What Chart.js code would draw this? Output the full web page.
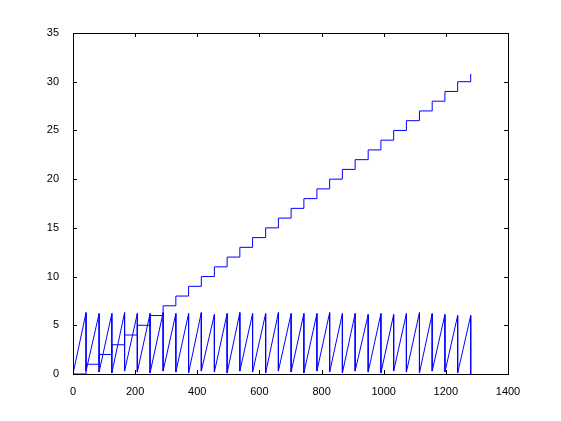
<!DOCTYPE html>
<html>
<head>
<meta charset="utf-8">
<script src="https://cdn.jsdelivr.net/npm/chart.js@4"></script>
<style>
  html, body { margin: 0; padding: 0; background: #fff; }
  #wrap { width: 561px; height: 421px; }
</style>
</head>
<body>
<div id="wrap"><canvas id="chart" width="561" height="421"></canvas></div>
<script>
// x positions where the phase wraps (and the counter steps up)
const wrapX = [42, 84, 125, 166, 207, 248, 290, 331, 372, 413, 455, 496, 537, 578, 620,
  661, 702, 743, 785, 826, 867, 908, 950, 991, 1032, 1073, 1115, 1156, 1197, 1238];
// wrapped phase just before / just after each wrap
const peakVals = [6.3, 6.2, 6.2, 6.3, 6.2, 6.2, 6.3, 6.2, 6.2, 6.3, 6.1, 6.2, 6.3, 6.2, 6.2,
  6.3, 6.2, 6.2, 6.2, 6.3, 6.2, 6.2, 6.1, 6.2, 6.1, 6.2, 6.3, 6.2, 6.1, 6.0];
const troughVals = [0.3, 0.2, 0.1, 0.3, 0.2, 0.1, 0.3, 0.2, 0.1, 0.3, 0.2, 0.1, 0.3, 0.2, 0.1,
  0.3, 0.2, 0.1, 0.3, 0.2, 0.1, 0.3, 0.2, 0.1, 0.3, 0.2, 0.1, 0.3, 0.2, 0.1];
const stepLevels = [0, 1, 2, 3, 4, 5, 6, 7, 8, 9, 10, 11, 12, 13, 14, 15,
  16, 17, 18, 19, 20, 21, 22, 23, 24, 25, 26, 27, 28, 29, 30];
const endX = 1280;
const endPhase = 6.0;
const endCount = 30.8;
const xTicks = [0, 200, 400, 600, 800, 1000, 1200, 1400];
const yTicks = [0, 5, 10, 15, 20, 25, 30, 35];

// staircase: wrap counter
const stairPts = [{ x: 0, y: endCount }, { x: 0, y: stepLevels[0] }];
wrapX.forEach((x, i) => {
  stairPts.push({ x: x, y: stepLevels[i] });
  stairPts.push({ x: x, y: stepLevels[i + 1] });
});
stairPts.push({ x: endX, y: stepLevels[stepLevels.length - 1] });
stairPts.push({ x: endX, y: endCount });

// sawtooth: wrapped phase
const sawPts = [{ x: 0, y: 0 }];
wrapX.forEach((x, i) => {
  sawPts.push({ x: x, y: peakVals[i] });
  sawPts.push({ x: x, y: troughVals[i] });
});
sawPts.push({ x: endX, y: endPhase });
sawPts.push({ x: endX, y: 0 });

const boxTicks = {
  id: 'boxTicks',
  afterDraw(chart) {
    const { ctx, chartArea: a, scales } = chart;
    ctx.save();
    ctx.strokeStyle = '#000';
    ctx.lineWidth = 1;
    ctx.strokeRect(a.left + 0.5, a.top + 0.5, a.right - a.left, a.bottom - a.top);
    ctx.beginPath();
    xTicks.forEach((v) => {
      const px = Math.round(scales.x.getPixelForValue(v)) + 0.5;
      ctx.moveTo(px, a.bottom); ctx.lineTo(px, a.bottom - 4);
      ctx.moveTo(px, a.top); ctx.lineTo(px, a.top + 4);
    });
    yTicks.forEach((v) => {
      const py = Math.round(scales.y.getPixelForValue(v)) + 0.5;
      ctx.moveTo(a.left, py); ctx.lineTo(a.left + 4, py);
      ctx.moveTo(a.right, py); ctx.lineTo(a.right - 4, py);
    });
    ctx.stroke();
    ctx.restore();
  }
};

new Chart(document.getElementById('chart'), {
  type: 'scatter',
  data: {
    datasets: [
      { data: stairPts, showLine: true, borderColor: '#0000ff', borderWidth: 1, pointRadius: 0, tension: 0 },
      { data: sawPts, showLine: true, borderColor: '#0000ff', borderWidth: 1, pointRadius: 0, tension: 0 }
    ]
  },
  options: {
    responsive: false,
    animation: false,
    layout: { padding: { left: 0, top: 33, right: 53, bottom: 0 } },
    plugins: { legend: { display: false }, tooltip: { enabled: false } },
    scales: {
      x: {
        type: 'linear', min: 0, max: 1400,
        grid: { display: false }, border: { display: false },
        afterFit(s) { s.height = 47; },
        afterBuildTicks(s) { s.ticks = xTicks.map((v) => ({ value: v })); },
        ticks: {
          padding: 3, color: '#000', font: { family: 'Liberation Sans', size: 11 },
          callback: (v) => String(v)
        }
      },
      y: {
        type: 'linear', min: 0, max: 35,
        grid: { display: false }, border: { display: false },
        afterFit(s) { s.width = 73; },
        afterBuildTicks(s) { s.ticks = yTicks.map((v) => ({ value: v })); },
        ticks: {
          padding: 6, color: '#000', font: { family: 'Liberation Sans', size: 11 },
          callback: (v) => String(v)
        }
      }
    }
  },
  plugins: [boxTicks]
});
</script>
</body>
</html>
